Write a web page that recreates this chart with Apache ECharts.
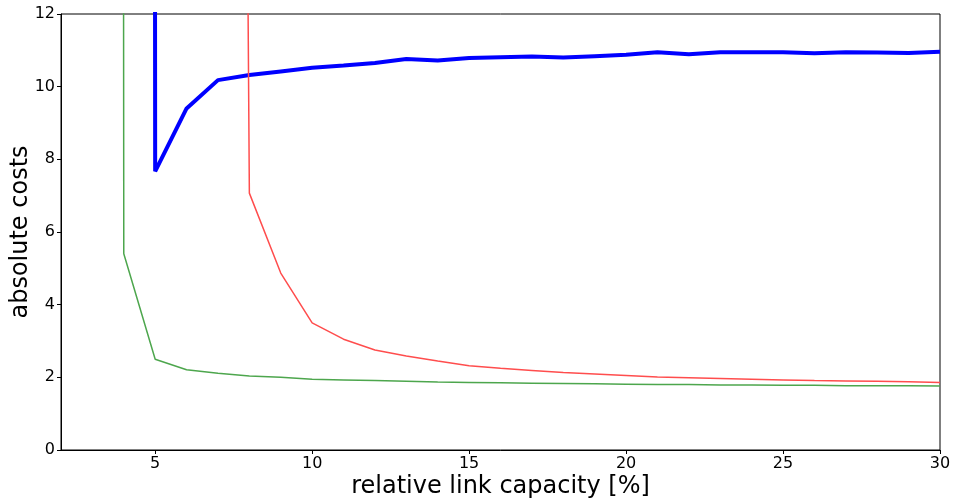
<!DOCTYPE html>
<html>
<head>
<meta charset="utf-8">
<script src="https://cdn.jsdelivr.net/npm/echarts@6/dist/echarts.min.js"></script>
<style>
html,body{margin:0;padding:0;background:#fff;}
#chart{width:954px;height:504px;}
</style>
</head>
<body>
<div id="chart"></div>
<script>
var capacities = [2,3,4,5,6,7,8,9,10,11,12,13,14,15,16,17,18,19,20,21,22,23,24,25,26,27,28,29,30];
var blueCosts = [null,null,1000,7.67,9.40,10.18,10.32,10.42,10.52,10.58,10.65,10.76,10.72,10.79,10.81,10.83,10.80,10.84,10.88,10.95,10.89,10.95,10.95,10.95,10.92,10.95,10.94,10.93,10.96];
var redCosts = [null,null,null,null,null,130,7.07,4.87,3.50,3.05,2.75,2.59,2.45,2.32,2.25,2.19,2.13,2.09,2.05,2.01,1.99,1.97,1.95,1.93,1.91,1.90,1.89,1.88,1.86];
var greenCosts = [null,1000,5.40,2.50,2.21,2.11,2.04,2.00,1.95,1.93,1.91,1.89,1.87,1.86,1.85,1.84,1.83,1.82,1.81,1.80,1.80,1.79,1.79,1.78,1.78,1.77,1.77,1.77,1.76];
var xTicks = [5,10,15,20,25,30];
var yTicks = [0,2,4,6,8,10,12];
var xLabel = 'relative link capacity [%]';
var yLabel = 'absolute costs';

function pairs(vals){
  var out = [];
  for (var i = 0; i < capacities.length; i++) {
    if (vals[i] !== null) out.push([capacities[i], vals[i]]);
  }
  return out;
}

var chart = echarts.init(document.getElementById('chart'), null, {renderer:'canvas'});
var font = 'DejaVu Sans';
chart.setOption({
  animation: false,
  backgroundColor: '#fff',
  grid: {left: 61, right: 14, top: 14, bottom: 54, containLabel: false, outerBoundsMode: 'none', show: true, borderColor: '#000', borderWidth: 1, backgroundColor: 'transparent'},
  xAxis: {
    type: 'value', min: 2, max: 30,
    name: xLabel, nameLocation: 'middle', nameGap: 25, nameMoveOverlap: false,
    nameTextStyle: {fontFamily: font, fontSize: 24, color: '#000'},
    axisLine: {show: true, onZero: false, lineStyle: {color: '#000', width: 1}},
    axisTick: {show: true, length: 4, customValues: xTicks, lineStyle: {color: '#000'}},
    axisLabel: {customValues: xTicks, fontFamily: font, fontSize: 16, color: '#000', margin: 6},
    splitLine: {show: false}
  },
  yAxis: {
    type: 'value', min: 0, max: 12, interval: 2,
    name: yLabel, nameLocation: 'middle', nameGap: 28, nameMoveOverlap: false,
    nameTextStyle: {fontFamily: font, fontSize: 24, color: '#000'},
    axisLine: {show: true, lineStyle: {color: '#000', width: 1}},
    axisTick: {show: true, length: 4, lineStyle: {color: '#000'}},
    axisLabel: {customValues: yTicks, fontFamily: font, fontSize: 16, color: '#000', margin: 6},
    splitLine: {show: false}
  },
  series: [
    {type: 'line', data: pairs(blueCosts), showSymbol: false, clip: true, lineStyle: {color: '#0000ff', width: 4}, z: 2},
    {type: 'line', data: pairs(redCosts), showSymbol: false, clip: true, lineStyle: {color: '#ff4d4d', width: 1.5}, z: 3},
    {type: 'line', data: pairs(greenCosts), showSymbol: false, clip: true, lineStyle: {color: '#4da64d', width: 1.5}, z: 3}
  ]
});
</script>
</body>
</html>
